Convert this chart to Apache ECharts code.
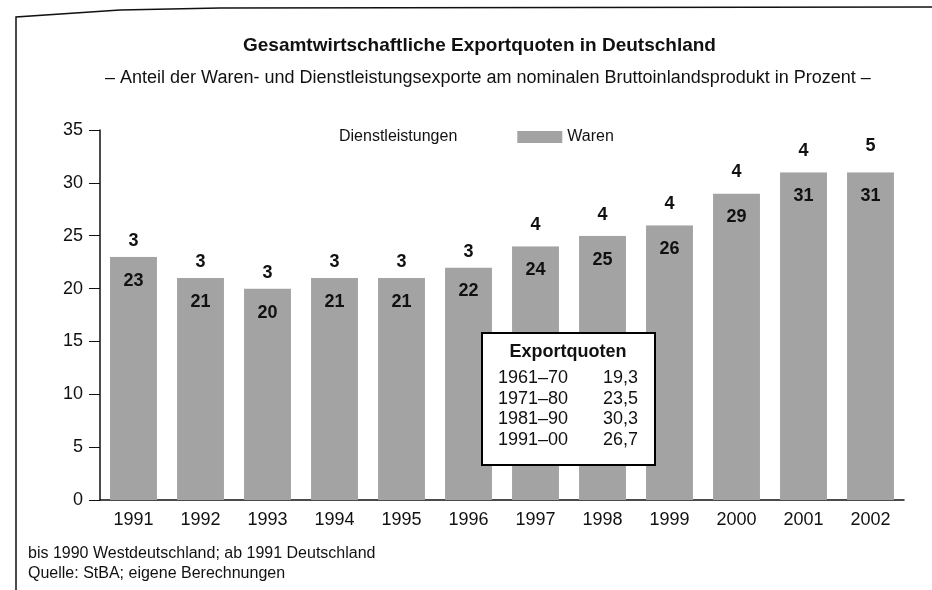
<!DOCTYPE html>
<html>
<head>
<meta charset="utf-8">
<script src="https://cdn.jsdelivr.net/npm/echarts@6/dist/echarts.min.js"></script>
<style>
  html, body { margin: 0; padding: 0; background: #fff; }
  #main { width: 932px; height: 590px; }
</style>
</head>
<body>
<div id="main"></div>
<script>
// Jahre
var years = ['1991', '1992', '1993', '1994', '1995', '1996', '1997', '1998', '1999', '2000', '2001', '2002'];
// Warenexporte in % des BIP
var waren = [23, 21, 20, 21, 21, 22, 24, 25, 26, 29, 31, 31];
// Dienstleistungsexporte in % des BIP
var dienst = [3, 3, 3, 3, 3, 3, 4, 4, 4, 4, 4, 5];
// Kasten Exportquoten
var periods = ['1961–70', '1971–80', '1981–90', '1991–00'];
var quoten = ['19,3', '23,5', '30,3', '26,7'];

var font = '"Liberation Sans", Arial, Helvetica, sans-serif';
var myChart = echarts.init(document.getElementById('main'));

// Kasten mit Texten (liegt über den Balken)
var bx = 482, by = 333;
var boxEls = [{
  type: 'rect', z: 100,
  shape: { x: bx, y: by, width: 173, height: 132 },
  style: { fill: '#fff', stroke: '#000', lineWidth: 2 }
}, {
  type: 'text', z: 101,
  x: bx + 86, y: by + 19,
  style: { text: 'Exportquoten', font: 'bold 18px ' + font, fill: '#111', align: 'center', verticalAlign: 'middle' }
}];
periods.forEach(function (p, i) {
  boxEls.push({
    type: 'text', z: 101, x: bx + 16, y: by + 45 + i * 20.7,
    style: { text: p, font: '18px ' + font, fill: '#111', verticalAlign: 'middle' }
  });
  boxEls.push({
    type: 'text', z: 101, x: bx + 156, y: by + 45 + i * 20.7,
    style: { text: quoten[i], font: '18px ' + font, fill: '#111', align: 'right', verticalAlign: 'middle' }
  });
});

var option = {
  backgroundColor: '#fff',
  animation: false,
  textStyle: { fontFamily: font },
  title: [{
    text: 'Gesamtwirtschaftliche Exportquoten in Deutschland',
    left: 238, top: 31,
    textStyle: { fontFamily: font, fontWeight: 'bold', fontSize: 19, color: '#111' }
  }, {
    text: '– Anteil der Waren- und Dienstleistungsexporte am nominalen Bruttoinlandsprodukt in Prozent –',
    left: 100, top: 64,
    textStyle: { fontFamily: font, fontWeight: 'normal', fontSize: 18, color: '#111' }
  }],
  legend: {
    left: 284, top: 124,
    itemWidth: 45, itemHeight: 12, itemGap: 60,
    icon: 'rect',
    textStyle: { fontSize: 16, color: '#111' },
    data: ['Dienstleistungen', 'Waren'],
    selectedMode: false
  },
  grid: { left: 100, right: 28, top: 130, bottom: 90 },
  xAxis: {
    type: 'category',
    data: years,
    axisLine: { lineStyle: { color: '#111', width: 1.5 } },
    axisTick: { show: false },
    axisLabel: { color: '#111', fontSize: 18, margin: 11 }
  },
  yAxis: {
    type: 'value',
    min: 0, max: 35, interval: 5,
    axisLine: { show: true, lineStyle: { color: '#111', width: 1.5 } },
    axisTick: { show: true, length: 11, lineStyle: { color: '#111' } },
    splitLine: { show: false },
    axisLabel: { color: '#111', fontSize: 18, margin: 17 }
  },
  series: [{
    name: 'Waren',
    type: 'bar',
    stack: 'export',
    barWidth: '70%',
    data: waren,
    itemStyle: { color: '#a3a3a3' },
    label: {
      show: true, position: 'insideTop', distance: 15,
      color: '#111', fontWeight: 'bold', fontSize: 18
    }
  }, {
    name: 'Dienstleistungen',
    type: 'bar',
    stack: 'export',
    barWidth: '70%',
    clip: false,
    data: dienst,
    itemStyle: { color: '#fff' },
    label: {
      show: true, position: 'inside',
      color: '#111', fontWeight: 'bold', fontSize: 18
    }
  }],
  graphic: [{
    type: 'polyline',
    z: 100,
    shape: { points: [[16, 590], [16, 17], [120, 10], [220, 8], [932, 7]] },
    style: { stroke: '#111', lineWidth: 1.5, fill: null }
  }].concat(boxEls, [{
    type: 'text', left: 28, top: 546, z: 100,
    style: { text: 'bis 1990 Westdeutschland; ab 1991 Deutschland', font: '16px ' + font, fill: '#111' }
  }, {
    type: 'text', left: 28, top: 566, z: 100,
    style: { text: 'Quelle: StBA; eigene Berechnungen', font: '16px ' + font, fill: '#111' }
  }])
};
myChart.setOption(option);
</script>
</body>
</html>
